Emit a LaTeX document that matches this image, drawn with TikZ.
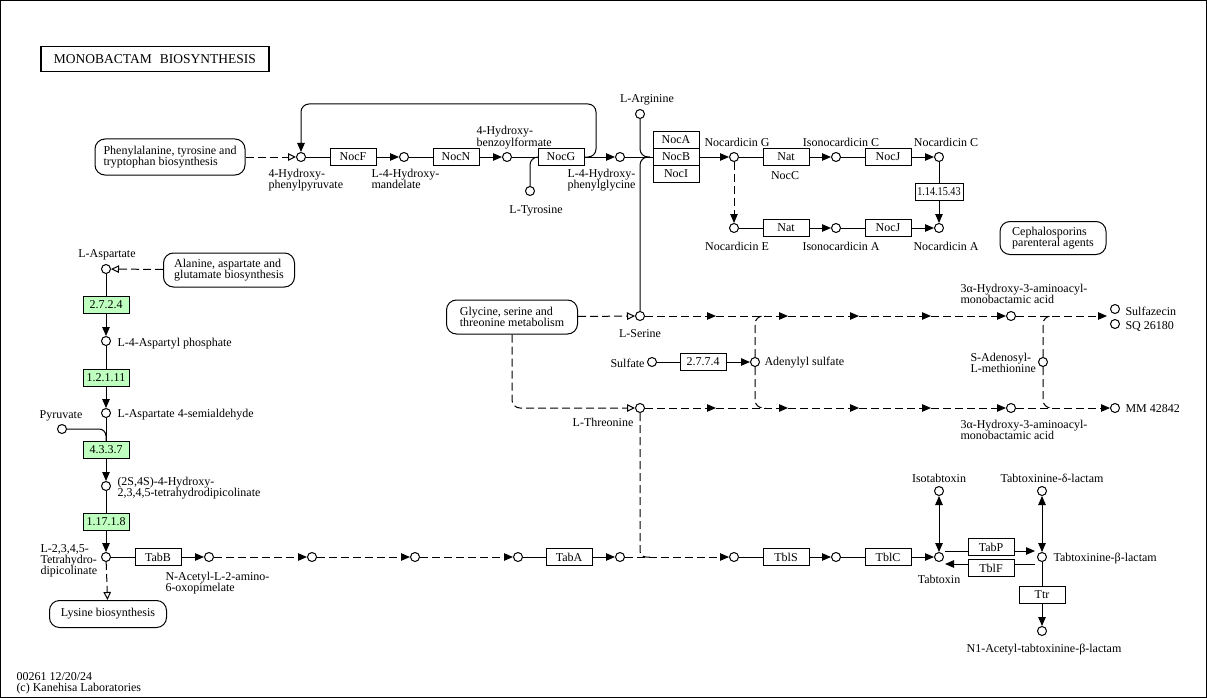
\documentclass[tikz,border=0pt]{standalone}
\usepackage{fontspec}
\setmainfont{Liberation Serif}
\usepackage{graphicx}
\usetikzlibrary{arrows.meta}
\definecolor{ecgreen}{HTML}{BFFFBF}
\begin{document}
\begin{tikzpicture}[x=1pt,y=-1pt,line width=1pt,font=\fontsize{12}{11}\selectfont,
 cpd/.style={circle, draw, fill=white, minimum size=9pt, inner sep=0pt},
 enz/.style={draw, fill=white, minimum width=46pt, minimum height=17pt, inner sep=0pt},
 ecbox/.style={enz, fill=ecgreen},
 pmap/.style={draw, rounded corners=10pt, align=left, inner sep=0pt},
 lbl/.style={align=left, inner sep=0pt},
 tri/.style={-{Triangle[length=9pt,width=7.5pt]}},
 otri/.style={-{Triangle[open,length=8pt,width=7.5pt]}},
 dtri/.style={{Triangle[length=9pt,width=7.5pt]}-{Triangle[length=9pt,width=7.5pt]}},
 dsh/.style={dash pattern=on 8pt off 4pt}]
\useasboundingbox (0,0) rectangle (1207,698);
\draw (0.5,0.5) rectangle (1206.5,697.5);

% title
\node[draw, line width=1.5pt, minimum width=228pt, minimum height=25pt, inner sep=0pt, font=\fontsize{13.5}{14}\selectfont] (title) at (155,59) {MONOBACTAM\hspace{0.6em}BIOSYNTHESIS};

% pathway maps
\node[pmap, minimum width=150pt, minimum height=36pt] (phe) at (170,157) {Phenylalanine, tyrosine and\\tryptophan biosynthesis};
\node[pmap, minimum width=131pt, minimum height=34pt] (ala) at (229,270) {Alanine, aspartate and\\glutamate biosynthesis};
\node[pmap, minimum width=117pt, minimum height=27pt] (lys) at (108,614) {Lysine biosynthesis};
\node[pmap, minimum width=131pt, minimum height=34pt] (gly) at (512,317) {Glycine, serine and\\threonine metabolism};
\node[pmap, minimum width=106pt, minimum height=33pt] (ceph) at (1053,238) {Cephalosporins\\parenteral agents};

% compounds
\node[cpd] (c_hpp) at (301,157) {};
\node[cpd] (c_l4hm) at (404,157) {};
\node[cpd] (c_hbf) at (507,157) {};
\node[cpd] (c_l4hpg) at (620,157) {};
\node[cpd] (c_tyr) at (530,191) {};
\node[cpd] (c_arg) at (640,114) {};
\node[cpd] (c_nocG) at (734,157) {};
\node[cpd] (c_isoC) at (836,157) {};
\node[cpd] (c_nocC) at (939,157) {};
\node[cpd] (c_nocE) at (734,228) {};
\node[cpd] (c_isoA) at (836,228) {};
\node[cpd] (c_nocA) at (939,228) {};
\node[cpd] (c_asp) at (106,269) {};
\node[cpd] (c_asp4p) at (106,341) {};
\node[cpd] (c_asa) at (106,413) {};
\node[cpd] (c_pyr) at (62,429) {};
\node[cpd] (c_htpa) at (106,486) {};
\node[cpd] (c_thdp) at (106,557) {};
\node[cpd] (c_nacap) at (209,557) {};
\node[cpd] (c_b1) at (312,557) {};
\node[cpd] (c_b2) at (415,557) {};
\node[cpd] (c_b3) at (518,557) {};
\node[cpd] (c_b4) at (620,557) {};
\node[cpd] (c_b5) at (734,557) {};
\node[cpd] (c_b6) at (836,557) {};
\node[cpd] (c_tabtox) at (939,557) {};
\node[cpd] (c_isotab) at (939,491) {};
\node[cpd] (c_tbl) at (1042,557) {};
\node[cpd] (c_tdl) at (1042,491) {};
\node[cpd] (c_n1) at (1042,631) {};
\node[cpd] (c_ser) at (640,316) {};
\node[cpd] (c_thr) at (640,408) {};
\node[cpd] (c_sulfate) at (652,362) {};
\node[cpd] (c_aps) at (755,362) {};
\node[cpd] (c_ham1) at (1011,316) {};
\node[cpd] (c_ham2) at (1011,408) {};
\node[cpd] (c_sam) at (1043,362) {};
\node[cpd] (c_sulfaz) at (1115,309) {};
\node[cpd] (c_sq) at (1115,324) {};
\node[cpd] (c_mm) at (1115,408) {};

% enzymes
\node[enz] (nocF) at (353,157) {NocF};
\node[enz] (nocN) at (456,157) {NocN};
\node[enz] (nocG) at (561,157) {NocG};
\node[enz] (nocA) at (676,140) {NocA};
\node[enz] (nocB) at (676,157) {NocB};
\node[enz] (nocI) at (676,174) {NocI};
\node[enz] (nat1) at (786,157) {Nat};
\node[enz] (nocJ1) at (888,157) {NocJ};
\node[enz] (nat2) at (786,228) {Nat};
\node[enz] (nocJ2) at (888,228) {NocJ};
\node[enz, minimum width=48pt] (ec11415) at (939,192) {\scalebox{0.85}[1]{1.14.15.43}};
\node[ecbox] (ec2724) at (106,305) {2.7.2.4};
\node[ecbox] (ec12111) at (106,378) {1.2.1.11};
\node[ecbox] (ec4337) at (106,450) {4.3.3.7};
\node[ecbox] (ec11718) at (106,522) {1.17.1.8};
\node[enz] (tabB) at (158,557) {TabB};
\node[enz] (tabA) at (569,557) {TabA};
\node[enz] (tblS) at (786,557) {TblS};
\node[enz] (tblC) at (888,557) {TblC};
\node[enz] (tabP) at (991,547) {TabP};
\node[enz] (tblF) at (991,568) {TblF};
\node[enz] (ttr) at (1042,595) {Ttr};
\node[enz] (ec2774) at (703,362) {2.7.7.4};

% free coordinates
\coordinate (sA) at (716,316);
\coordinate (sB) at (788,316);
\coordinate (sC) at (859,316);
\coordinate (sD) at (931,316);
\coordinate (sE) at (1107,316);
\coordinate (tA) at (716,408);
\coordinate (tB) at (788,408);
\coordinate (tC) at (859,408);
\coordinate (tD) at (931,408);
\coordinate (jSer) at (650,157);
\coordinate (jThr) at (650,557);
\coordinate (apsU) at (766,316);
\coordinate (apsD) at (766,408);
\coordinate (samU) at (1053,316);
\coordinate (samD) at (1053,408);
\coordinate (loopR) at (596,104);
\coordinate (tpL) at (945,551);
\coordinate (tpR) at (1035,551);
\coordinate (tfL) at (945,564);
\coordinate (tfR) at (1035,564);

% top row
\draw[dsh, otri] (phe) -- (c_hpp);
\draw (c_hpp) -- (nocF);
\draw[tri] (nocF) -- (c_l4hm);
\draw (c_l4hm) -- (nocN);
\draw[tri] (nocN) -- (c_hbf);
\draw (c_hbf) -- (nocG);
\draw[tri] (nocG) -- (c_l4hpg);
\draw[rounded corners=8pt] (c_tyr.north) |- (nocG.west);
\draw[tri, rounded corners=8pt] (nocG.east) -| (loopR) -| (c_hpp.north);
\draw (c_l4hpg) -- (nocB);
\draw[rounded corners=8pt] (c_arg.south) |- (jSer);
\draw[rounded corners=8pt] (c_ser.north) |- (jSer);
\draw[tri] (nocB) -- (c_nocG);
\draw (c_nocG) -- (nat1);
\draw[tri] (nat1) -- (c_isoC);
\draw (c_isoC) -- (nocJ1);
\draw[tri] (nocJ1) -- (c_nocC);
\draw (c_nocC) -- (ec11415);
\draw[tri] (ec11415) -- (c_nocA);
\draw[dsh, tri] (c_nocG) -- (c_nocE);
\draw (c_nocE) -- (nat2);
\draw[tri] (nat2) -- (c_isoA);
\draw (c_isoA) -- (nocJ2);
\draw[tri] (nocJ2) -- (c_nocA);

% left column
\draw[dsh, otri] (ala) -- (c_asp);
\draw (c_asp) -- (ec2724);
\draw[tri] (ec2724) -- (c_asp4p);
\draw (c_asp4p) -- (ec12111);
\draw[tri] (ec12111) -- (c_asa);
\draw (c_asa) -- (ec4337);
\draw[rounded corners=7pt] (c_pyr.east) -| (ec4337.north);
\draw[tri] (ec4337) -- (c_htpa);
\draw (c_htpa) -- (ec11718);
\draw[tri] (ec11718) -- (c_thdp);
\draw[dsh, otri] (c_thdp) -- (lys);

% bottom row
\draw (c_thdp) -- (tabB);
\draw[tri] (tabB) -- (c_nacap);
\draw[dsh, tri] (c_nacap) -- (c_b1);
\draw[dsh, tri] (c_b1) -- (c_b2);
\draw[dsh, tri] (c_b2) -- (c_b3);
\draw (c_b3) -- (tabA);
\draw[tri] (tabA) -- (c_b4);
\draw[dsh, tri] (c_b4) -- (c_b5);
\draw[dsh, rounded corners=6pt] (c_thr.south) |- (jThr);
\draw (c_b5) -- (tblS);
\draw[tri] (tblS) -- (c_b6);
\draw (c_b6) -- (tblC);
\draw[tri] (tblC) -- (c_tabtox);
\draw[dtri] (c_tabtox) -- (c_isotab);
\draw[dtri] (c_tbl) -- (c_tdl);
\draw (tpL) -- (tabP.west |- tpL);
\draw[tri] (tabP.east |- tpR) -- (tpR);
\draw (tfR) -- (tblF.east |- tfR);
\draw[tri] (tblF.west |- tfL) -- (tfL);
\draw (c_tbl) -- (ttr);
\draw[tri] (ttr) -- (c_n1);

% middle
\draw[dsh, otri] (gly) -- (c_ser);
\draw[dsh, otri, rounded corners=8pt] (gly.south) |- (c_thr);
\draw[dsh, tri] (c_ser) -- (sA);
\draw[dsh, tri] (sA) -- (sB);
\draw[dsh, tri] (sB) -- (sC);
\draw[dsh, tri] (sC) -- (sD);
\draw[dsh, tri] (sD) -- (c_ham1);
\draw[dsh, tri] (c_ham1) -- (sE);
\draw[dsh, tri] (c_thr) -- (tA);
\draw[dsh, tri] (tA) -- (tB);
\draw[dsh, tri] (tB) -- (tC);
\draw[dsh, tri] (tC) -- (tD);
\draw[dsh, tri] (tD) -- (c_ham2);
\draw[dsh, tri] (c_ham2) -- (c_mm);
\draw (c_sulfate) -- (ec2774);
\draw[tri] (ec2774) -- (c_aps);
\draw[dsh, rounded corners=8pt] (c_aps.north) |- (apsU);
\draw[dsh, rounded corners=8pt] (c_aps.south) |- (apsD);
\draw[dsh, rounded corners=8pt] (c_sam.north) |- (samU);
\draw[dsh, rounded corners=8pt] (c_sam.south) |- (samD);

% labels
\node[lbl, anchor=north west] (l_hpp) at (268,168.5) {4-Hydroxy-\\phenylpyruvate};
\node[lbl, anchor=north west] (l_l4hm) at (371,168.5) {L-4-Hydroxy-\\mandelate};
\node[lbl, anchor=north west] (l_hbf) at (476,125.5) {4-Hydroxy-\\benzoylformate};
\node[lbl, anchor=north west] (l_l4hpg) at (567,168.5) {L-4-Hydroxy-\\phenylglycine};
\node[lbl] (l_tyr) at (536,211) {L-Tyrosine};
\node[lbl] (l_arg) at (647,100) {L-Arginine};
\node[lbl] (l_nocG) at (737,142) {Nocardicin G};
\node[lbl] (l_nocCenz) at (785,176) {NocC};
\node[lbl] (l_isoC) at (841,142) {Isonocardicin C};
\node[lbl] (l_nocC) at (946,142) {Nocardicin C};
\node[lbl] (l_nocE) at (737,246) {Nocardicin E};
\node[lbl] (l_isoA) at (841,246) {Isonocardicin A};
\node[lbl] (l_nocA) at (946,246) {Nocardicin A};
\node[lbl] (l_asp) at (107,255) {L-Aspartate};
\node[lbl, anchor=west] (l_asp4p) at (117,344) {L-4-Aspartyl phosphate};
\node[lbl, anchor=west] (l_asa) at (117,415) {L-Aspartate 4-semialdehyde};
\node[lbl] (l_pyr) at (61,416) {Pyruvate};
\node[lbl, anchor=north west] (l_htpa) at (117,477) {(2S,4S)-4-Hydroxy-\\2,3,4,5-tetrahydrodipicolinate};
\node[lbl, anchor=north west] (l_thdp) at (40,544) {L-2,3,4,5-\\Tetrahydro-\\dipicolinate};
\node[lbl, anchor=north west] (l_nacap) at (165,572) {N-Acetyl-L-2-amino-\\6-oxopimelate};
\node[lbl] (l_ser) at (640,334) {L-Serine};
\node[lbl] (l_thr) at (603,422) {L-Threonine};
\node[lbl, anchor=east] (l_sulfate) at (645,363) {Sulfate};
\node[lbl, anchor=west] (l_aps) at (764,363) {Adenylyl sulfate};
\node[lbl, anchor=north west] (l_ham1) at (960,284) {3α-Hydroxy-3-aminoacyl-\\monobactamic acid};
\node[lbl, anchor=north west] (l_ham2) at (960,420) {3α-Hydroxy-3-aminoacyl-\\monobactamic acid};
\node[lbl, anchor=north west] (l_sam) at (970,353) {S-Adenosyl-\\L-methionine};
\node[lbl, anchor=west] (l_sulfaz) at (1125,311) {Sulfazecin};
\node[lbl, anchor=west] (l_sq) at (1125,326) {SQ 26180};
\node[lbl, anchor=west] (l_mm) at (1125,409) {MM 42842};
\node[lbl] (l_isotab) at (939,478) {Isotabtoxin};
\node[lbl] (l_tdl) at (1052,478) {Tabtoxinine-δ-lactam};
\node[lbl] (l_tabtox) at (939,579) {Tabtoxin};
\node[lbl, anchor=west] (l_tbl) at (1053,559) {Tabtoxinine-β-lactam};
\node[lbl] (l_n1) at (1044,650) {N1-Acetyl-tabtoxinine-β-lactam};
\node[lbl, anchor=north west] (footer) at (16,672) {00261 12/20/24\\(c) Kanehisa Laboratories};
\end{tikzpicture}
\end{document}
